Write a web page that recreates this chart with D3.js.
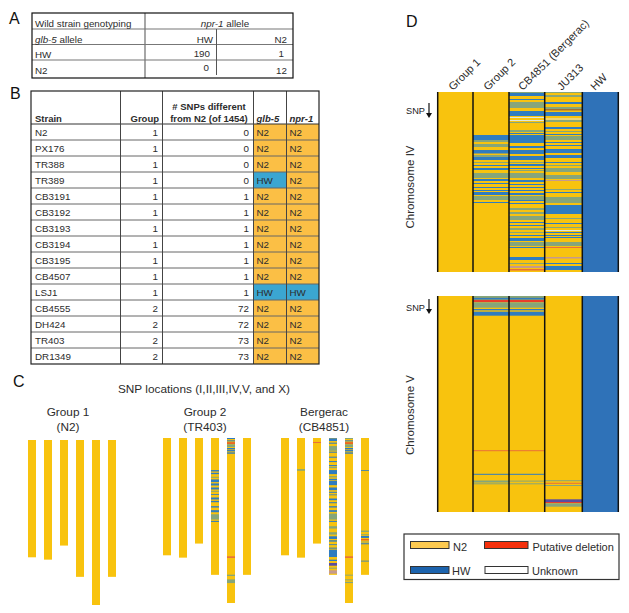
<!DOCTYPE html>
<html><head><meta charset="utf-8">
<script src="https://cdn.jsdelivr.net/npm/d3@7"></script>
<style>html,body{margin:0;padding:0;background:#fff}svg{display:block}text{font-family:"Liberation Sans",Arial,sans-serif;fill:#2c2c2c}</style>
</head><body><svg id="c" width="629" height="613"></svg>
<script>
// ---------- Panel A data ----------
const genotypeHeaders = ["Wild strain genotyping", "npr-1 allele", "glb-5 allele"];
const alleles = ["HW", "N2"];
const countsHW = [190, 1];
const countsN2 = [0, 12];
// ---------- Panel B data ----------
const strains = ["N2","PX176","TR388","TR389","CB3191","CB3192","CB3193","CB3194","CB3195","CB4507","LSJ1","CB4555","DH424","TR403","DR1349"];
const groups = [1,1,1,1,1,1,1,1,1,1,1,2,2,2,2];
const snpDiffs = [0,0,0,0,1,1,1,1,1,1,1,72,72,73,73];
const glb5 = ["N2","N2","N2","HW","N2","N2","N2","N2","N2","N2","HW","N2","N2","N2","N2"];
const npr1 = ["N2","N2","N2","N2","N2","N2","N2","N2","N2","N2","HW","N2","N2","N2","N2"];
// ---------- Panel C data (Mb-like units, [start,end,call]) ----------
const chromNames = ["I","II","III","IV","V","X"];
const chromLengths = [15.0,15.3,13.5,17.5,21.1,17.5];
const g2ChrIV = [[4.10,4.28,"b"],[4.45,4.62,"b"],[4.96,5.09,"g"],[5.30,5.64,"b"],[5.81,6.07,"b"],[6.33,6.58,"b"],[6.75,6.88,"g"],[7.18,7.27,"b"],[7.61,7.86,"b"],[8.04,8.21,"b"],[8.72,8.89,"b"],[9.23,9.49,"b"],[9.75,10.43,"g"],[10.6,10.73,"b"]];
const g2ChrV = [[0,0.13,"b"],[0.30,0.43,"b"],[0.56,0.73,"r"],[0.81,1.16,"g"],[1.28,1.46,"b"],[1.54,1.71,"b"],[1.84,2.01,"b"],[15.13,15.34,"o"],[17.48,17.65,"g"],[18.08,18.55,"g"]];
const bgChrII = [[3.98,4.19,"g"]];
const bgChrIII = [[0.51,0.64,"o"]];
const bgChrIV = [[0.04,0.39,"b"],[0.6,0.73,"b"],[1.03,1.63,"g"],[1.75,1.88,"b"],[2.39,2.52,"b"],[2.95,3.08,"b"],[3.46,3.59,"b"],[3.68,3.85,"g"],[4.10,4.62,"b"],[4.87,5.04,"g"],[5.22,5.39,"b"],[5.47,6.03,"b"],[6.33,6.67,"b"],[6.88,7.01,"b"],[7.22,7.31,"b"],[7.74,7.95,"b"],[8.21,8.34,"b"],[8.72,8.89,"b"],[9.23,9.45,"b"],[9.66,10.43,"g"],[10.6,10.73,"b"],[11.28,11.58,"g"],[12.05,12.35,"g"],[12.57,12.91,"b"],[13.08,13.25,"b"],[13.59,13.68,"b"],[14.02,14.15,"b"],[14.28,15.22,"b"],[15.56,15.73,"b"],[15.98,16.33,"m"],[16.58,16.71,"g"],[16.92,17.35,"p"]];
const bgChrV = [[0,0.13,"g"],[0.30,0.43,"b"],[0.56,0.73,"r"],[0.81,1.16,"g"],[1.28,1.46,"b"],[1.54,1.71,"b"],[1.84,2.01,"b"],[15.13,15.34,"o"],[17.48,17.6,"g"],[18.08,18.2,"g"],[18.4,18.55,"g"]];
const bgChrX = [[4.10,4.19,"b"],[11.84,12.01,"g"],[12.31,12.4,"g"],[12.52,12.78,"b"],[12.95,13.08,"r"],[13.25,13.34,"g"],[13.46,13.59,"b"],[15.69,15.77,"b"]];
const genomeNames = ["Group 1\n(N2)","Group 2\n(TR403)","Bergerac\n(CB4851)"];
const genomeBands = [
  [[],[],[],[],[],[]],
  [[],[],[],g2ChrIV,g2ChrV,[]],
  [[],bgChrII,bgChrIII,bgChrIV,bgChrV,bgChrX]
];
// ---------- Panel D data (SNP index, [start,end,call]) ----------
const columnsD = ["Group 1","Group 2","CB4851 (Bergerac)","JU313","HW"];
const chrIVCount = 180, chrVCount = 216;
const ivGroup2 = [[43,48,"b"],[48,50,"g"],[52,55,"g"],[58,61.5,"b"],[63,65,"g"],[65,68,"b"],[70,71,"g"],[73,74,"b"],[76,78,"b"],[81,86,"g"],[87,89,"b"],[91,92,"b"],[95,96,"b"],[98,99,"b"],[100,103,"b"],[104,108,"g"],[110,111,"b"]];
const ivCB = [[0,1,"g"],[1,4,"b"],[7,8,"b"],[10,16,"g"],[19,24,"b"],[25,26,"w"],[28,29,"w"],[30,31,"g"],[38,40,"g"],[41,42,"b"],[43,51,"b"],[54,56,"b"],[58,62,"b"],[64,68,"b"],[70,71,"g"],[72,74,"b"],[76,77,"b"],[78,79,"g"],[81,86,"g"],[88,90,"b"],[92,93,"b"],[95,96,"b"],[98,99,"b"],[101,103,"b"],[104,108,"g"],[108,109,"b"],[111,112,"b"],[116,118,"g"],[120,122,"g"],[124,128,"g"],[130,131,"b"],[133,134,"b"],[136,138,"g"],[140,141,"g"],[143,144,"b"],[146,149,"b"],[150,154,"g"],[155,156,"b"],[165,168,"b"],[171,172,"g"],[174,176,"p"],[177,178.5,"o"]];
const ivJU = [[0,1,"g"],[3,5,"g"],[10,12,"b"],[15,17,"g"],[17,18.5,"x"],[20,24,"b"],[26.5,27.5,"w"],[28,30,"g"],[35,37,"b"],[39,40,"g"],[42,43,"b"],[44,48,"g"],[50,51,"b"],[53,54,"b"],[57,61,"b"],[63,66,"b"],[70,71,"b"],[73,74,"g"],[76,80,"g"],[83,87,"g"],[88,89,"p"],[97,98,"g"],[100,101,"b"],[105,111,"g"],[113,122,"b"],[126,127,"g"],[131,132,"b"],[135,136,"g"],[138,139,"w"],[140,141,"b"],[143,144,"b"],[145,146,"b"],[150,154,"g"],[155,156,"o"],[165,166.5,"p"],[171,172,"b"],[174,178,"b"]];
const vGroup2 = [[0,1.7,"g"],[1.7,3.7,"b"],[4,6,"r"],[6.3,11.7,"g"],[13,14.3,"b"],[15.7,19.7,"b"],[154.2,155.2,"o"],[177.8,178.8,"b"],[184.5,186.5,"g"],[187.3,188.3,"g"]];
const vCB = [[0,1.7,"g"],[1.7,3.7,"b"],[4,6,"r"],[6.3,11.7,"g"],[13,14.3,"b"],[15.7,19.7,"b"],[154.2,155.2,"o"],[177.8,178.8,"b"],[184.6,185.6,"g"],[187.3,188.3,"g"]];
const vJU = [[184.2,185.2,"g"],[186.8,187.8,"o"],[189,190,"g"],[203.3,206,"m"],[206,207,"r"],[207.3,210.7,"g"]];
const chrDBands = [
  {name:"Chromosome IV", count:chrIVCount, bands:[[],ivGroup2,ivCB,ivJU]},
  {name:"Chromosome V", count:chrVCount, bands:[[],vGroup2,vCB,vJU]}
];
// ---------- Legend ----------
const legendLabels = ["N2","Putative deletion","HW","Unknown"];

// ---------- Styling ----------
const YEL="#f8c30e", BLU="#2f72b8";
const callColor = d3.scaleOrdinal(["b","g","r","o","w","p","m","x"],
  [ "#2f7cc0","#86a67a","#e8402a","#e9703a","#dfe6dc","#c59a8e","#5a4d9e","#a5702e"]);
const cellColor = d3.scaleOrdinal(["N2","HW"],["#fbbf45","#3ba6d1"]);
const svg = d3.select("#c");
const FF = 9.8;

function txt(g,x,y,s,o={}){
  const t=g.append("text").attr("x",x).attr("y",y).attr("font-size",o.size||FF)
    .attr("text-anchor",o.anchor||"start").text(s);
  if(o.weight)t.attr("font-weight",o.weight);
  if(o.style)t.attr("font-style",o.style);
  if(o.fill)t.style("fill",o.fill);
  if(o.transform)t.attr("transform",o.transform);
  return t;
}
function line(g,x1,y1,x2,y2,c,w){g.append("line").attr("x1",x1).attr("y1",y1).attr("x2",x2).attr("y2",y2).attr("stroke",c).attr("stroke-width",w);}
// mixed roman/italic label
function mixed(g,x,y,it,rest,anchor){
  const t=g.append("text").attr("x",x).attr("y",y).attr("font-size",FF).attr("text-anchor",anchor||"start");
  t.append("tspan").attr("font-style","italic").text(it);
  t.append("tspan").text(rest);
}
// Panel letters
[["A",9,24],["B",10,99],["C",13,387],["D",406,27]].forEach(d=>txt(svg,d[1],d[2],d[0],{size:16,fill:"#111"}));

// ---------- Panel A ----------
{
  const g=svg.append("g");
  [29,44.5,60].forEach(v=>line(g,32,v,293,v,"#777",1.2));
  line(g,145,13,145,78,"#777",1.3);
  line(g,216.5,29,216.5,75,"#555",1);
  g.append("rect").attr("x",32).attr("y",13).attr("width",261).attr("height",65).attr("fill","none").attr("stroke","#111").attr("stroke-width",1.2);
  txt(g,35,27,genotypeHeaders[0]);
  mixed(g,225,27,"npr-1"," allele","middle");
  mixed(g,35,42.5,"glb-5"," allele");
  txt(g,213,42.5,alleles[0],{anchor:"end"});
  txt(g,287,42.5,alleles[1],{anchor:"end"});
  txt(g,35,58,alleles[0]);
  txt(g,210,57,countsHW[0],{anchor:"end"});
  txt(g,284,57,countsHW[1],{anchor:"end"});
  txt(g,35,74,alleles[1]);
  txt(g,209,71,countsN2[0],{anchor:"end"});
  txt(g,287,74,countsN2[1],{anchor:"end"});
}

// ---------- Panel B ----------
{
  const g=svg.append("g");
  const y=d3.scaleBand().domain(strains).range([124,364]);
  [["glb",glb5,253.5,33],["npr",npr1,286.5,32.5]].forEach(c=>{
    g.selectAll("rect."+c[0]).data(strains).join("rect").attr("class",c[0])
      .attr("x",c[2]).attr("y",d=>y(d)).attr("width",c[3]).attr("height",y.bandwidth())
      .attr("fill",(d,i)=>cellColor(c[1][i]));
  });
  strains.forEach((s,i)=>line(g,31,y(s),319,y(s),i===0?"#333":"#666",1));
  [120.5,162.5,253.5,286.5].forEach(x=>line(g,x,91,x,364,"#444",1));
  g.append("rect").attr("x",31).attr("y",91).attr("width",288).attr("height",273).attr("fill","none").attr("stroke","#222").attr("stroke-width",1.2);
  txt(g,35,122,"Strain",{weight:"bold",size:9.5});
  txt(g,159,122,"Group",{weight:"bold",size:9.5,anchor:"end"});
  txt(g,209,109.5,"# SNPs different",{weight:"bold",size:9.5,anchor:"middle"});
  txt(g,209,121.5,"from N2 (of 1454)",{weight:"bold",size:9.5,anchor:"middle"});
  txt(g,256.5,122,"glb-5",{weight:"bold",style:"italic",size:9.5});
  txt(g,289.5,122,"npr-1",{weight:"bold",style:"italic",size:9.5});
  strains.forEach((s,i)=>{
    const b=y(s)+12.3;
    txt(g,35,b,s);
    txt(g,158,b,groups[i],{anchor:"end"});
    txt(g,249,b,snpDiffs[i],{anchor:"end"});
    txt(g,256.5,b,glb5[i]);
    txt(g,289.5,b,npr1[i]);
  });
}

// ---------- Panel C ----------
{
  const g=svg.append("g");
  txt(g,204,393,"SNP locations (I,II,III,IV,V, and X)",{size:11.8,anchor:"middle"});
  const layout=[{x0:28,cx:68,top:440},{x0:163,cx:205,top:438},{x0:281,cx:324,top:438}];
  genomeNames.forEach((nm,k)=>{
    const L=layout[k];
    const xs=d3.scalePoint().domain(chromNames).range([L.x0,L.x0+80]);
    const y=d3.scaleLinear().domain([0,21.1]).range([L.top,L.top+165]);
    const parts=nm.split("\n");
    txt(g,L.cx,416,parts[0],{size:11.8,anchor:"middle"});
    txt(g,L.cx,431,parts[1],{size:11.8,anchor:"middle"});
    chromNames.forEach((c,i)=>{
      g.append("rect").attr("x",xs(c)).attr("y",y(0)).attr("width",8).attr("height",y(chromLengths[i])-y(0)).attr("fill",YEL);
      g.selectAll(null).data(genomeBands[k][i]).join("rect")
        .attr("x",xs(c)).attr("width",8).attr("y",d=>y(d[0])).attr("height",d=>Math.max(0.8,y(d[1])-y(d[0])))
        .attr("fill",d=>callColor(d[2]));
    });
  });
}

// ---------- Panel D ----------
{
  const g=svg.append("g");
  const edges=[437.7,473,509,544.7,582.3];
  const x=d3.scaleOrdinal(columnsD,edges);
  const right=618.3;
  const nextEdge=i=>i<4?edges[i+1]:right;
  const tops=[{y0:92,y1:272,snpY:114,arrow:[103,118],labY:187,labText:chrDBands[0].name},
              {y0:296,y1:512,snpY:311,arrow:[299,314],labY:415,labText:chrDBands[1].name}];
  chrDBands.forEach((ch,k)=>{
    const T=tops[k];
    const y=d3.scaleLinear().domain([0,ch.count]).range([T.y0,T.y1]);
    columnsD.forEach((c,i)=>{
      g.append("rect").attr("x",x(c)).attr("y",y(0)).attr("width",nextEdge(i)-x(c)).attr("height",y(ch.count)-y(0))
        .attr("fill",c==="HW"?BLU:YEL);
      if(ch.bands[i]) g.selectAll(null).data(ch.bands[i]).join("rect")
        .attr("x",x(c)).attr("width",nextEdge(i)-x(c)).attr("y",d=>y(d[0])).attr("height",d=>y(d[1])-y(d[0]))
        .attr("fill",d=>callColor(d[2]));
    });
    edges.concat([right]).forEach(e=>line(g,e,y(0),e,y(ch.count),"#111",1.5));
    txt(g,406,T.snpY,"SNP",{size:9.2,fill:"#222"});
    line(g,429,T.arrow[0],429,T.arrow[1]-3,"#111",1.2);
    g.append("path").attr("d",d3.line()([[426,T.arrow[1]-5],[432,T.arrow[1]-5],[429,T.arrow[1]]])+"Z").attr("fill","#111");
    txt(g,414,T.labY,T.labText,{size:11.5,anchor:"middle",transform:`rotate(-90 414 ${T.labY})`});
  });
  const startX=[453,488,522.7,561.7,595];
  columnsD.forEach((c,i)=>txt(g,startX[i],91,c,{size:11,transform:`rotate(-45 ${startX[i]} 91)`}));

  // legend
  g.append("rect").attr("x",404).attr("y",534).attr("width",215).attr("height",45.5).attr("fill","#fff").attr("stroke","#333").attr("stroke-width",1.2);
  const sw=[{x:410.5,w:38.5,y:541.5,f:"#fdca50",tx:453,ty:550.5},{x:484.5,w:43.5,y:541.5,f:"#f5300c",tx:532.5,ty:550.5},
            {x:410.5,w:38.5,y:566.5,f:"#1c63ad",tx:452,ty:574.5},{x:485,w:43,y:566.5,f:"#fff",tx:532,ty:574.5}];
  legendLabels.forEach((l,i)=>{
    const s=sw[i];
    g.append("rect").attr("x",s.x).attr("y",s.y).attr("width",s.w).attr("height",7).attr("fill",s.f).attr("stroke","#333").attr("stroke-width",1);
    txt(g,s.tx,s.ty,l,{size:11});
  });
}
</script></body></html>
